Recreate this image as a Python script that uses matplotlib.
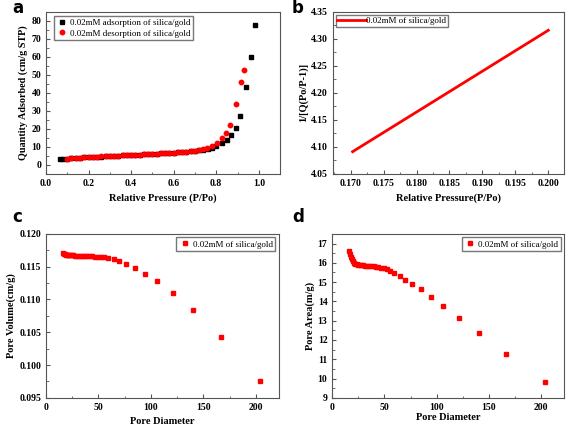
import numpy as np
import matplotlib
matplotlib.use("Agg")
import matplotlib.pyplot as plt
from matplotlib.ticker import MultipleLocator, FormatStrFormatter

plt.rcParams['font.family'] = ['Liberation Serif', 'DejaVu Serif']

# panel a: isotherm
ads_p = [0.065, 0.08, 0.10, 0.12, 0.14, 0.16, 0.18, 0.20, 0.22, 0.24, 0.26, 0.28, 0.30,
         0.32, 0.34, 0.36, 0.38, 0.40, 0.42, 0.44, 0.46, 0.48, 0.50, 0.52, 0.54, 0.56,
         0.58, 0.60, 0.62, 0.64, 0.66, 0.68, 0.70, 0.72, 0.74, 0.76, 0.78, 0.80, 0.827,
         0.849, 0.869, 0.893, 0.912, 0.940, 0.961, 0.984]
ads_q = [3.0, 3.2, 3.4, 3.6, 3.8, 3.95, 4.1, 4.25, 4.35, 4.45, 4.6, 4.7, 4.85,
         4.95, 5.05, 5.2, 5.3, 5.45, 5.55, 5.65, 5.8, 5.9, 6.05, 6.15, 6.3, 6.45,
         6.6, 6.75, 6.9, 7.05, 7.25, 7.45, 7.7, 8.0, 8.4, 8.9, 9.6, 10.5, 12.0,
         13.8, 16.5, 20.6, 27.2, 43.2, 59.7, 77.8]
des_p = [0.10, 0.12, 0.14, 0.16, 0.18, 0.20, 0.22, 0.24, 0.26, 0.28, 0.30, 0.32, 0.34,
         0.36, 0.38, 0.40, 0.42, 0.44, 0.46, 0.48, 0.50, 0.52, 0.54, 0.56, 0.58, 0.60,
         0.62, 0.64, 0.66, 0.68, 0.70, 0.72, 0.74, 0.756, 0.780, 0.803, 0.827, 0.847,
         0.866, 0.894, 0.917, 0.932]
des_q = [3.3, 3.55, 3.75, 3.95, 4.1, 4.25, 4.4, 4.5, 4.65, 4.75, 4.9, 5.0, 5.1,
         5.25, 5.35, 5.5, 5.6, 5.7, 5.85, 5.95, 6.1, 6.2, 6.35, 6.5, 6.65, 6.8,
         6.95, 7.15, 7.35, 7.6, 7.9, 8.3, 8.9, 9.6, 10.7, 12.0, 14.7, 17.8,
         22.1, 34.0, 46.0, 52.9]

# panel b: BET line
bet_p = [0.1703, 0.200]
bet_v = [4.091, 4.316]

# panels c and d: pore size distribution
pore_d = [16.3, 17.0, 17.8, 18.7, 19.7, 20.8, 22.0, 23.3, 24.7, 26.2, 27.8, 29.5,
          31.3, 33.2, 35.2, 37.3, 39.5, 41.8, 44.2, 46.7, 49.3, 52.0, 55.2, 59.5,
          64.5, 69.8, 76.5, 84.5, 94.5, 106.0, 121.0, 140.5, 166.5, 203.5]
pore_vol = [0.1171, 0.1170, 0.1169, 0.11685, 0.1168, 0.11678, 0.11676, 0.11675,
            0.11673, 0.11672, 0.1167, 0.11669, 0.11668, 0.11667, 0.11665, 0.11664,
            0.11662, 0.1166, 0.11658, 0.11655, 0.11652, 0.11648, 0.11642, 0.1163,
            0.1161, 0.1158, 0.1154, 0.1148, 0.1139, 0.1128, 0.1110, 0.1084, 0.1043,
            0.0975]
pore_area = [16.62, 16.45, 16.30, 16.18, 16.08, 16.00, 15.95, 15.92, 15.90, 15.89,
             15.88, 15.87, 15.86, 15.85, 15.84, 15.83, 15.81, 15.79, 15.77, 15.74,
             15.71, 15.67, 15.60, 15.47, 15.31, 15.12, 14.91, 14.62, 14.25, 13.77,
             13.16, 12.35, 11.28, 9.80]

label = "0.02mM of silica/gold"

fig = plt.figure(figsize=(5.67, 4.26), dpi=100)
ax_a = fig.add_axes([0.081, 0.592, 0.413, 0.380])
ax_b = fig.add_axes([0.587, 0.592, 0.408, 0.380])
ax_c = fig.add_axes([0.081, 0.066, 0.411, 0.385])
ax_d = fig.add_axes([0.586, 0.066, 0.409, 0.385])

def style(ax):
    for s in ax.spines.values():
        s.set_color('#555555')
        s.set_linewidth(0.8)
    ax.tick_params(which='both', direction='in', top=False, right=False,
                   labelsize=7, color='#555555')
    ax.tick_params(which='major', length=3)
    ax.tick_params(which='minor', length=1.8)
    for t in ax.get_xticklabels() + ax.get_yticklabels():
        t.set_fontweight('bold')

# a
ax_a.plot(ads_p, ads_q, 's', color='black', ms=3.2, label="0.02mM adsorption of silica/gold")
ax_a.plot(des_p, des_q, 'o', color='red', ms=3.2, label="0.02mM desorption of silica/gold")
ax_a.set_xlim(0, 1.1)
ax_a.set_ylim(-5, 85)
ax_a.xaxis.set_major_locator(MultipleLocator(0.2))
ax_a.xaxis.set_minor_locator(MultipleLocator(0.1))
ax_a.xaxis.set_major_formatter(FormatStrFormatter('%.1f'))
ax_a.yaxis.set_major_locator(MultipleLocator(10))
ax_a.yaxis.set_minor_locator(MultipleLocator(5))
ax_a.set_xlabel("Relative Pressure (P/Po)", fontsize=7.5, fontweight='bold')
ax_a.set_ylabel("Quantity Adsorbed (cm/g STP)", fontsize=7.3, fontweight='bold', labelpad=2)
ax_a.legend(loc='upper left', fontsize=6.5, frameon=True, fancybox=False,
            edgecolor='#555555', handletextpad=0.3, borderpad=0.3, labelspacing=0.2,
            handlelength=1.2, bbox_to_anchor=(0.015, 1.0))
style(ax_a)

# b
ax_b.plot(bet_p, bet_v, '-', color='red', lw=2, label=label)
ax_b.set_xlim(0.1673, 0.2024)
ax_b.set_ylim(4.05, 4.35)
ax_b.xaxis.set_major_locator(MultipleLocator(0.005))
ax_b.xaxis.set_minor_locator(MultipleLocator(0.0025))
ax_b.xaxis.set_major_formatter(FormatStrFormatter('%.3f'))
ax_b.yaxis.set_major_locator(MultipleLocator(0.05))
ax_b.yaxis.set_minor_locator(MultipleLocator(0.025))
ax_b.yaxis.set_major_formatter(FormatStrFormatter('%.2f'))
ax_b.set_xlabel("Relative Pressure(P/Po)", fontsize=7.5, fontweight='bold')
ax_b.set_ylabel("1/[Q(Po/P-1)]", fontsize=7.5, fontweight='bold', labelpad=2)
ax_b.legend(loc='upper left', fontsize=6.5, frameon=True, fancybox=False,
            edgecolor='#555555', handletextpad=0.0, borderpad=0.2,
            handlelength=3.2, borderaxespad=0.3)
style(ax_b)

# c
ax_c.plot(pore_d, pore_vol, 's', color='red', ms=3.2, label=label)
ax_c.set_xlim(0, 222)
ax_c.set_ylim(0.095, 0.120)
ax_c.xaxis.set_major_locator(MultipleLocator(50))
ax_c.xaxis.set_minor_locator(MultipleLocator(25))
ax_c.yaxis.set_major_locator(MultipleLocator(0.005))
ax_c.yaxis.set_minor_locator(MultipleLocator(0.0025))
ax_c.yaxis.set_major_formatter(FormatStrFormatter('%.3f'))
ax_c.set_xlabel("Pore Diameter", fontsize=7.5, fontweight='bold')
ax_c.set_ylabel("Pore Volume(cm/g)", fontsize=7.5, fontweight='bold', labelpad=2)
ax_c.legend(loc='upper right', fontsize=6.5, frameon=True, fancybox=False,
            edgecolor='#555555', handletextpad=0.3, borderpad=0.3,
            handlelength=1.2, borderaxespad=0.4)
style(ax_c)

# d
ax_d.plot(pore_d, pore_area, 's', color='red', ms=3.2, label=label)
ax_d.set_xlim(0, 222)
ax_d.set_ylim(9, 17.5)
ax_d.xaxis.set_major_locator(MultipleLocator(50))
ax_d.xaxis.set_minor_locator(MultipleLocator(25))
ax_d.yaxis.set_major_locator(MultipleLocator(1))
ax_d.yaxis.set_minor_locator(MultipleLocator(0.5))
ax_d.set_xlabel("Pore Diameter", fontsize=7.5, fontweight='bold', labelpad=1)
ax_d.set_ylabel("Pore Area(m/g)", fontsize=7.5, fontweight='bold', labelpad=2)
ax_d.legend(loc='upper right', fontsize=6.5, frameon=True, fancybox=False,
            edgecolor='#555555', handletextpad=0.3, borderpad=0.3,
            handlelength=1.2, borderaxespad=0.4)
style(ax_d)

# panel letters, placed by baseline
for x, y, s in [(0.022, 0.969, 'a'), (0.515, 0.969, 'b'), (0.022, 0.478, 'c'), (0.515, 0.478, 'd')]:
    fig.text(x, y, s, fontsize=12, fontweight='bold', family='DejaVu Sans', va='baseline')

fig.savefig("out.png", dpi=100)
